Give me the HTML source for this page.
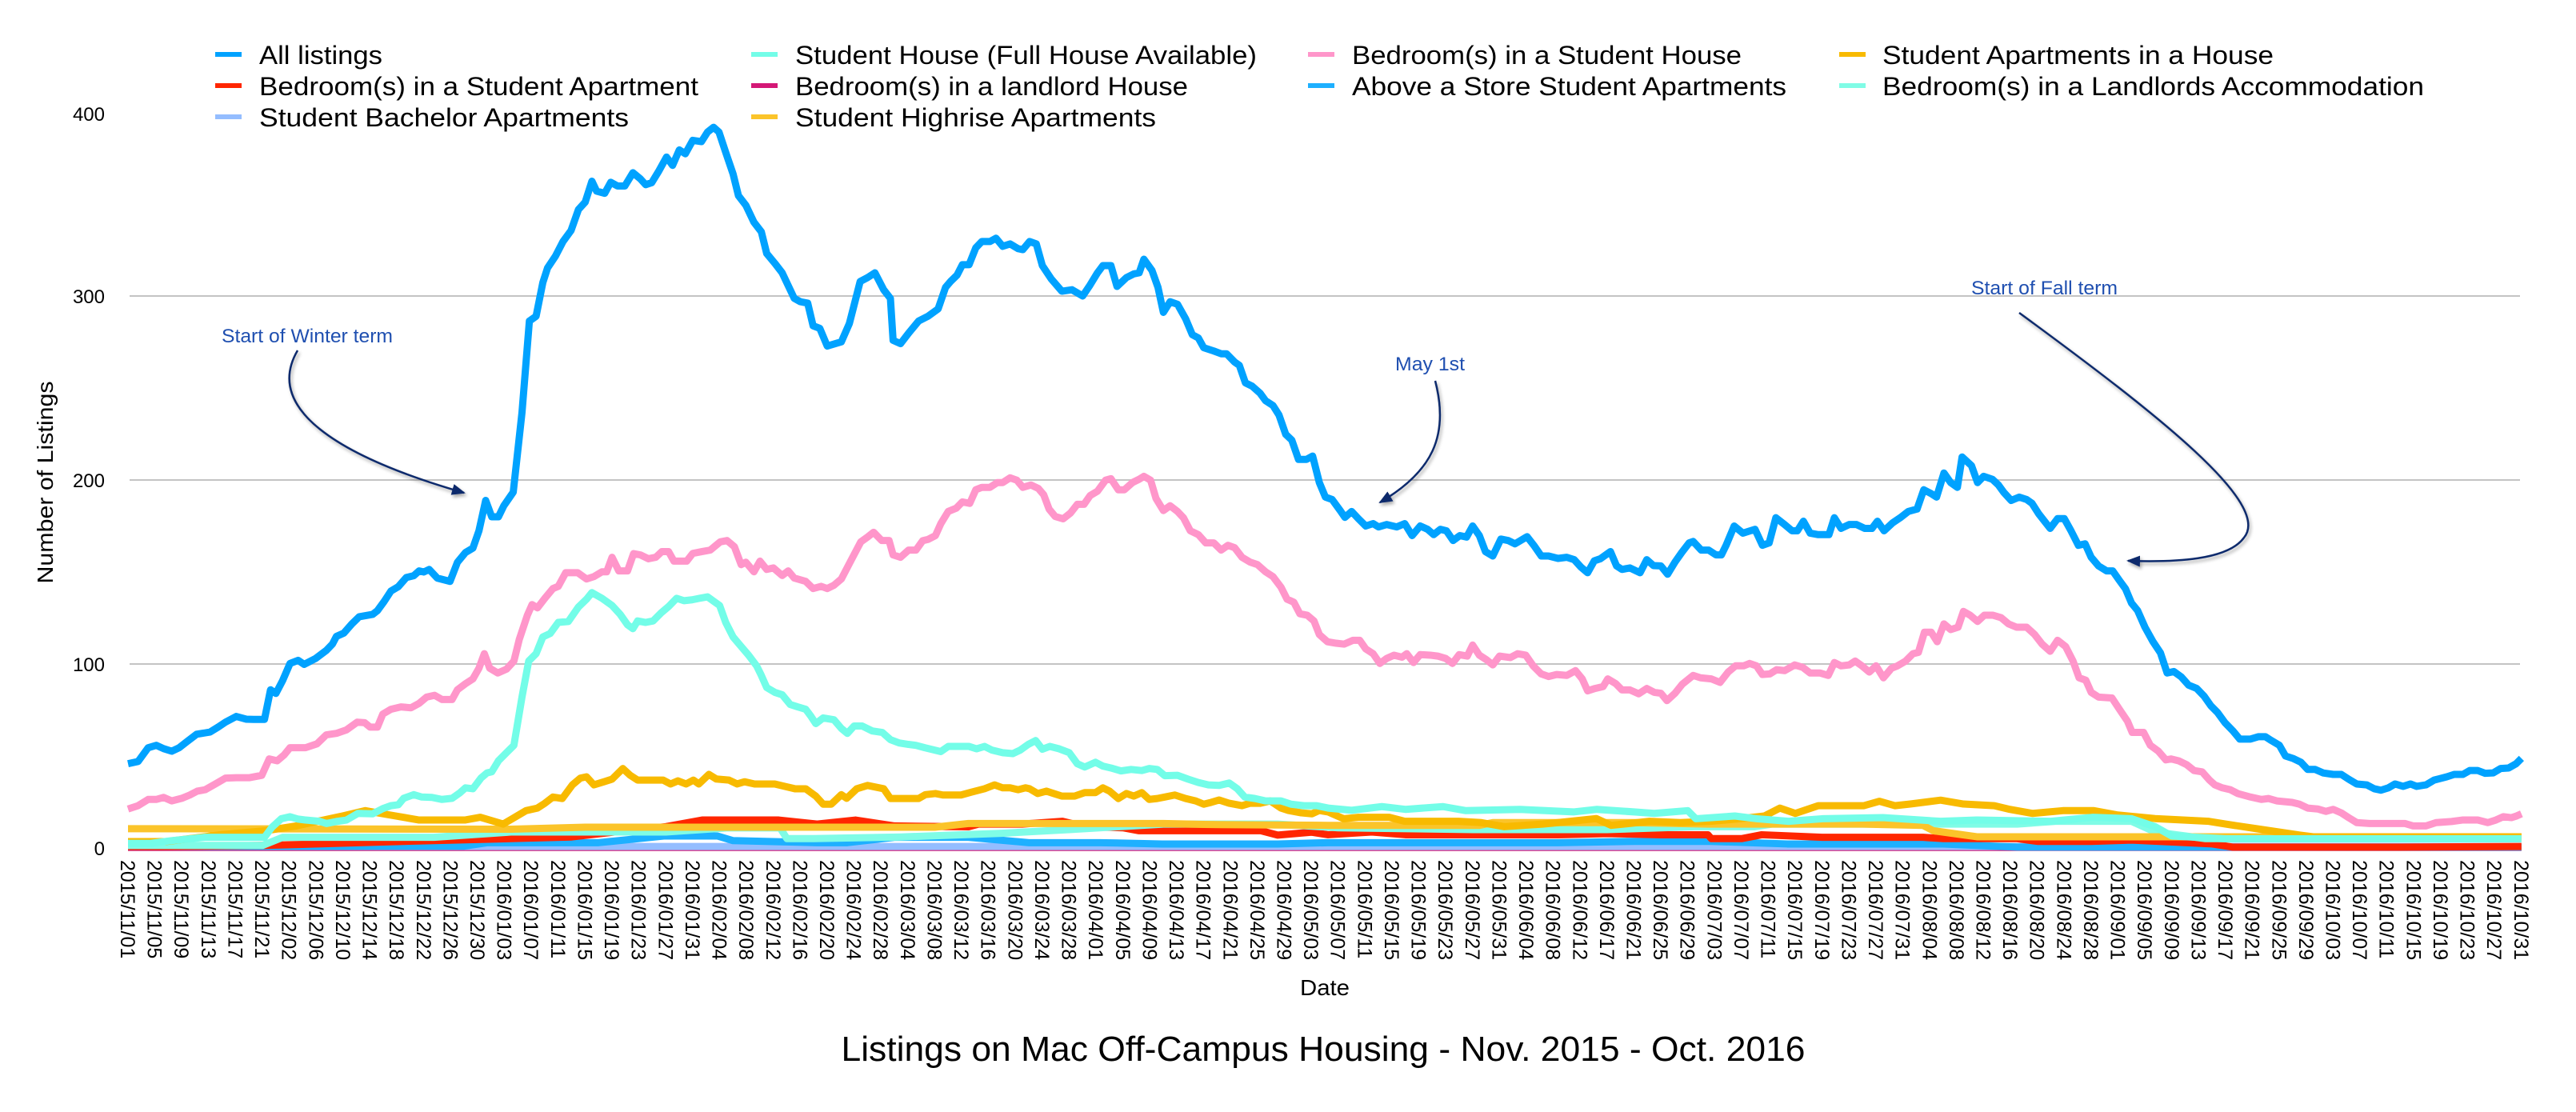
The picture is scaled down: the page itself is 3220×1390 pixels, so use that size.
<!DOCTYPE html>
<html>
<head>
<meta charset="utf-8">
<style>
  html, body { margin: 0; padding: 0; background: #ffffff; }
  svg { display: block; }
  text { font-family: "Liberation Sans", Arial, sans-serif; }
</style>
</head>
<body>
<svg width="3220" height="1390" viewBox="0 0 3220 1390" xmlns="http://www.w3.org/2000/svg">
  <defs>
    <marker id="ah" markerWidth="18" markerHeight="14" refX="15" refY="7" orient="auto" markerUnits="userSpaceOnUse">
      <path d="M0,0 L17,7 L0,14 z" fill="#0d2a6c"/>
    </marker>
    <filter id="sh" x="-10%" y="-10%" width="130%" height="130%">
      <feGaussianBlur in="SourceAlpha" stdDeviation="2"/>
      <feOffset dx="2" dy="3" result="b"/>
      <feComponentTransfer><feFuncA type="linear" slope="0.35"/></feComponentTransfer>
      <feMerge><feMergeNode/><feMergeNode in="SourceGraphic"/></feMerge>
    </filter>
  </defs>
  <rect width="3220" height="1390" fill="#ffffff"/>

  <!-- Legend -->
  <g font-size="32" fill="#000">
    <rect x="269" y="65" width="33" height="6" fill="#00a2ff"/>
    <text x="324" y="80" textLength="154" lengthAdjust="spacingAndGlyphs">All listings</text>
    <rect x="269" y="104" width="33" height="6" fill="#ff2600"/>
    <text x="324" y="119" textLength="549" lengthAdjust="spacingAndGlyphs">Bedroom(s) in a Student Apartment</text>
    <rect x="269" y="143" width="33" height="6" fill="#94bdff"/>
    <text x="324" y="158" textLength="462" lengthAdjust="spacingAndGlyphs">Student Bachelor Apartments</text>

    <rect x="939" y="65" width="33" height="6" fill="#73fde8"/>
    <text x="994" y="80" textLength="577" lengthAdjust="spacingAndGlyphs">Student House (Full House Available)</text>
    <rect x="939" y="104" width="33" height="6" fill="#d41876"/>
    <text x="994" y="119" textLength="491" lengthAdjust="spacingAndGlyphs">Bedroom(s) in a landlord House</text>
    <rect x="939" y="143" width="33" height="6" fill="#fbc42a"/>
    <text x="994" y="158" textLength="451" lengthAdjust="spacingAndGlyphs">Student Highrise Apartments</text>

    <rect x="1635" y="65" width="33" height="6" fill="#ff96ca"/>
    <text x="1690" y="80" textLength="487" lengthAdjust="spacingAndGlyphs">Bedroom(s) in a Student House</text>
    <rect x="1635" y="104" width="33" height="6" fill="#1eb0ff"/>
    <text x="1690" y="119" textLength="543" lengthAdjust="spacingAndGlyphs">Above a Store Student Apartments</text>

    <rect x="2299" y="65" width="33" height="6" fill="#f8ba00"/>
    <text x="2353" y="80" textLength="489" lengthAdjust="spacingAndGlyphs">Student Apartments in a House</text>
    <rect x="2299" y="104" width="33" height="6" fill="#80fce6"/>
    <text x="2353" y="119" textLength="677" lengthAdjust="spacingAndGlyphs">Bedroom(s) in a Landlords Accommodation</text>
  </g>

  <!-- Gridlines -->
  <g stroke="#c4c4c4" stroke-width="2">
    <line x1="162" y1="370" x2="3150" y2="370"/>
    <line x1="162" y1="600" x2="3150" y2="600"/>
    <line x1="162" y1="830" x2="3150" y2="830"/>
  </g>

  <!-- Y ticks -->
  <g font-size="24" fill="#000" text-anchor="end">
    <text x="131" y="151">400</text>
    <text x="131" y="379">300</text>
    <text x="131" y="609">200</text>
    <text x="131" y="839">100</text>
    <text x="131" y="1069">0</text>
  </g>

  <!-- Y axis title -->
  <text transform="translate(66,603) rotate(-90)" font-size="28" text-anchor="middle" textLength="253" lengthAdjust="spacingAndGlyphs">Number of Listings</text>

  <!-- Series -->
  <g transform="translate(160,1060) scale(8.404,-2.3)" fill="none" stroke-linejoin="round" stroke-linecap="butt">
    <!-- Bedroom(s) in a landlord House -->
    <polyline vector-effect="non-scaling-stroke" stroke="#d41876" stroke-width="9" points="0,0.3 356,0.3"/>
    <!-- Student Bachelor -->
    <polyline vector-effect="non-scaling-stroke" stroke="#94bdff" stroke-width="9" points="0,0.8 356,0.8"/>
    <!-- Above a Store -->
    <polyline vector-effect="non-scaling-stroke" stroke="#1eb0ff" stroke-width="9" points="0,0.8 50,1 53.5,2.9 70,2.9 79.7,6.5 87.7,6.5 90,4 102.5,2.9 107,2.9 114,5.8 125,5.8 134,2.9 144.6,2.9 153.8,2.2 171,2.2 178.5,2.9 212.7,2.9 224,3.6 235.4,3.6 246.8,2.2 269.6,2.2 281,0.5 356,0.5"/>
    <!-- Bedroom(s) in a Student Apartment -->
    <polyline vector-effect="non-scaling-stroke" stroke="#ff2600" stroke-width="9" points="0,0.8 4.6,0.8 20.5,1.4 41,3.6 57,5.1 66,6 74,9.4 80,11.6 85.4,15.2 96.8,15.2 102.5,13 108.2,15.2 114,12 125,11.5 126.5,13 133,13 139,14.5 142.4,11.6 148,11 150.3,9.4 168.5,9.4 171,7 176,8.6 178.5,7.2 185,8.7 190,7.2 212.7,7.2 220,7.8 228,7.2 235,7.2 235.5,5.1 240,5.1 243,7.2 252,5.8 267,5.8 270,5.1 281,5.1 284,3.6 292,3.6 298,4.3 310,2.2 313,0.5 338,0.5 356,0.8"/>
    <!-- Landlords Accommodation -->
    <polyline vector-effect="non-scaling-stroke" stroke="#80fce6" stroke-width="9" points="0,1.4 20,1.4 23,5.8 45.5,5.8 57,8.7 80,8.7 89,10.9 97,10.9 98,5.1 102,5.1 115,6 130,8 140,10 154,13 171,13 180,11 200,10 220,10 233,11.6 242,11.6 244.6,13 281,13 286.7,14.5 298,14.5 301.5,8.7 309,5.1 356,5.1"/>
    <!-- Student Highrise -->
    <polyline vector-effect="non-scaling-stroke" stroke="#fbc42a" stroke-width="9" points="0,10.5 57,10.2 68,11.3 120,11.3 125,13.3 154,13.3 160,12.8 178.5,12.3 201,12.3 203,13.8 224,13.8 235,13 258,13 267,12.3 268.5,9.4 275,6.1 356,6.1"/>
    <!-- Student Apartments in a House -->
    <polyline vector-effect="non-scaling-stroke" stroke="#f8ba00" stroke-width="9" points="0,3.5 5.7,3.5 13.7,7.2 20.5,9.4 25,12 31.9,17.4 35.3,20.3 38.7,18.1 43.3,15.2 50.1,15.2 52.4,16.7 55.8,13 59.2,20.3 60.9,21.7 62,24.3 63.2,27.7 64.6,26.9 66.1,34.3 67.3,38 68.2,38.7 69.3,34.3 70.9,36.1 72,37.4 73.6,43.2 74.7,39.5 75.8,36.9 79.6,36.9 80.7,34.8 81.8,36.5 83,34.8 84.1,36.9 84.9,34.8 86.4,40 87.5,37.5 89.4,36.9 90.6,34.8 91.7,36 93.2,34.8 96.2,34.8 97.7,33.5 99.2,32.2 100.8,32.2 102.3,28.2 103.4,23.8 104.6,23.8 106.1,29 106.9,27 108.4,32.2 110,34 112.4,32.2 113.4,26.9 117.6,26.9 118.6,29 120.1,29.6 121.2,28.8 123.9,28.8 125.5,30.4 127.4,32.2 128.9,34.3 130.1,32.7 131.2,32.7 132.4,31.7 133.5,32.7 134.1,32.2 135.3,29.6 136.6,30.9 137.7,29.6 138.9,28.2 140.8,28.2 142.3,30.1 143.9,30.1 145,32.7 146,30.9 147.3,26.9 148.5,29.6 149.6,28.2 150.8,30.1 151.9,26.4 153.1,26.9 154.2,27.7 155.7,28.8 157.3,26.9 158.8,25.6 160,23.8 161.1,24.8 162.3,26.1 163.8,24.3 165.7,23 166.9,24.3 168.4,24.3 169.9,25.6 171.5,21.7 172.6,20.4 174.5,19.1 176.1,18.6 177.2,20.4 178.5,19.6 180.8,15.9 183,16.7 187.6,16.7 189.9,14.5 197.9,14.5 201.3,13.8 204.7,11.6 210.4,13 212.7,13.8 218.4,16 220.6,12.3 226.3,14.5 230.9,13.8 235.4,14.5 240,16 243.4,17.4 245.7,21.7 248,18.8 251.4,23 258.2,23 260.5,25.4 262.8,23 265.1,23.9 269.6,26 273,23.9 277.6,23 279.9,21 283.3,18.8 287.8,20.3 292.4,20.3 295.8,18 301.5,16 309.5,14.5 312,13 317.5,10 323.1,7 325,6.1 356,6.1"/>
    <!-- Student House (Full House Available) -->
    <polyline vector-effect="non-scaling-stroke" stroke="#73fde8" stroke-width="9" points="0,2.5 3.4,2.5 6.5,4 11.4,5.8 20.3,5.8 21.4,11.2 22.8,15.9 24.1,17 25.3,15.7 26.4,15.2 28.5,14.5 29.5,13.3 31,14.4 32.5,15.2 34.2,18.8 36.4,18.6 37.9,21.4 39.1,23 40.2,23.5 41,27 42.5,29 43.7,27.7 45.2,27.5 46.7,26.4 48.2,27 49.4,30.1 50.2,32.7 51.3,32.2 52.5,38 53.4,40.8 54.1,41.4 55.1,47.4 56.3,51.8 57.4,55.8 58.6,82 59.6,101.6 60.7,105.6 61.7,114.7 62.8,116.6 64,122.6 65.5,123.1 67,131 68.2,135.2 69,138.8 70.5,135.7 72,131.8 73.2,127 74.3,121.3 75.1,119.2 75.8,123.4 77,122.6 78.1,123.4 79.3,127.8 80.4,131.2 81.6,135.7 82.7,134.4 83.9,134.9 85,135.7 86.2,136.5 87,134.4 88,131.8 88.9,122.6 90,114.7 91.2,109.5 92.3,104.8 93.5,99 94.2,93.8 95,87.2 96.2,84.6 97.3,83.3 98.5,78 99.6,76.7 100.8,75.4 101.5,72 102.3,67.6 103.4,70.7 105,69.7 106.1,65 107,62.3 108,66.3 109.2,66.3 110.7,63.6 112.2,62.8 113.4,58.9 114.7,57.1 116.1,56.3 117.2,55.8 118.5,54.5 120.9,52.4 122,55.2 125.1,55.2 126.2,53.9 127.4,55.2 128.5,53.2 130.1,51.8 131.6,51.3 132.7,53.2 133.9,56.3 135,58.4 136,53.7 137.1,55.2 138.5,53.9 140,51.8 141.2,45.8 142.3,44 143.9,46.6 145,44.5 146.2,43.5 147.7,41.9 149.2,42.7 150.8,42.1 151.9,43.2 153.1,42.7 154.2,39.3 156.1,39.5 157.7,37.4 159.2,35.6 160.7,34.3 162.3,34 163.8,35.3 165,32.2 166.1,27.7 167.6,26.9 169.2,25.6 171.5,25.6 173,23.8 174.9,23 176.8,23 178.5,21.7 182,20.5 186.5,22.5 190,21 195.6,22.5 199,20.3 207,21 215,19.6 218.5,21 224,19.6 227,18.8 232,20.3 233.2,15.9 239,17.4 242.3,15.9 247,14.5 252,15.9 261,16.5 269.6,14.5 275,15.2 286,14.5 292.3,16.7 298,15.9 301.5,11.6 304,6.5 312,5 356,5"/>
    <!-- Bedroom(s) in a Student House -->
    <polyline vector-effect="non-scaling-stroke" stroke="#ff96ca" stroke-width="9" points="0,21.2 1.5,23 3,26.4 4.2,26.4 5.3,27.5 6.5,25.6 8,27 9.2,28.8 10.3,30.9 11.5,31.7 13,34.8 14.5,38 16.1,38.2 18,38.2 19.9,39.5 21,48.4 22.2,47.4 23.2,50.5 24.1,54.5 26.4,54.5 28.1,56.6 29.5,61.5 31,62.3 32.5,64.2 34.1,68.4 35.2,68.1 36,65.7 37.1,65.7 37.9,72.8 39.1,75.4 40.6,76.7 42.1,76.2 43.3,78.6 44.4,82 45.6,83 46.7,80.7 48.2,80.7 49,86 50.2,89.3 51.3,91.9 52.2,97.7 53,105.6 53.8,97.7 55,95.1 56.3,97.2 57.4,101.6 58.2,113.4 59.4,126.5 60.1,132.3 60.9,130.5 62,135.7 63.2,141 64,142.2 65.1,149.6 66.9,149.6 68.2,146.2 69.3,147.5 70.5,150.1 71.2,150.1 72,158 73,150.6 74.3,150.6 75.2,160 76.2,159.3 77.4,157.2 78.5,158 79.4,161.1 80.4,161.1 81.2,155.9 83.1,155.9 84,160.1 85.4,161.1 86.6,161.9 88.1,166.4 89.1,167.1 90.2,163.7 91.2,154 91.9,155.3 93.1,150.1 94,155.9 95,151.4 96,152.2 97.3,148.1 98.2,150.6 99.1,146.7 100.8,144.9 101.9,141 103.1,142.2 104,141 105,142.8 106.1,146.2 107.6,156.7 109,166.4 110,169 110.9,171.6 112.1,167.1 113.2,167.1 113.8,159.3 114.9,158 116.1,161.9 117.2,161.9 118.2,167 119,167.7 120.1,169.8 120.9,176.3 122,182.9 123.2,184.7 124.1,188.1 125.2,187.3 126.1,194.7 127,196 128.2,196 129.3,198.6 130.1,198.6 131.2,201.2 132.2,199.9 133.1,196 134.3,197.3 135.4,195.4 136.2,192 137,184.2 137.9,180.2 139.1,178.9 140.2,182.1 141.2,186.8 142.2,186.8 143.1,191.5 144.2,193.9 145.4,199.9 146.2,200.7 147.3,194.7 148.2,194.7 149.4,198.6 150.4,200.4 151.1,202 152.1,199.9 152.9,190 154,183.4 155,186 156.1,182.9 157,179.4 158,172.4 159.2,170.3 160.3,165.8 161.5,165.8 162.6,161.9 163.6,164.5 164.6,163.2 165.7,158 166.9,155.4 168,154 169.2,150.1 170.3,147.5 171.5,141.7 172.4,135.2 173.4,133.6 174.3,127.3 175.4,126.5 176.4,123.4 177.2,116 178.4,112.1 179.7,111.3 180.9,110.8 182.2,112.9 183.2,112.9 184.1,108.2 185.2,105.6 186.2,100.3 187.2,103 188.3,104.8 189.5,103.7 190.2,105.6 191.2,100.8 192.2,105.1 193.7,104.8 194.8,104.3 196,103 197,100.3 198,105.1 199.2,104.3 200,110.3 201,104.8 202.1,102.2 203,99.5 204,104.3 205.6,103.5 206.7,105.6 207.9,104.8 209,99 210.2,94.6 211.3,93.2 212.5,94.3 214,93.8 215.3,96.4 216.3,91.9 217.1,85.4 218.2,86.7 219.4,87.7 220.1,91.9 221.3,89.3 222.2,85.9 223.4,85.9 224.7,83.8 225.9,86.7 227,84.6 228,84.1 228.9,80.1 230.1,84.1 231.2,89.1 232.8,93.8 233.9,92.5 235.5,91.9 236.8,90 238,95.6 239.1,99 240.3,99 241.2,100.3 242.2,99 243.1,94.3 244.2,94.6 245.2,96.9 246.4,96.4 247.9,99.5 249.1,98.2 250.2,95.1 251.7,95.1 252.9,93.8 253.8,100.8 254.8,99 256,99.5 256.9,101.6 257.9,99 259,95.6 260,99 261.1,92.5 262.3,97.7 263.2,99 264.4,101.6 265.5,105.6 266.3,106.3 267.2,117.3 268.2,117.3 269.1,112.1 270.1,121.8 271.1,118.7 272.2,120 273,128.6 274,126.5 275.1,123.1 276.1,126.5 277.4,126.5 278.6,125.2 279.7,121.8 280.9,120 282.4,120 283.6,116 284.7,110.8 285.9,106.9 287,112.9 288.2,109.5 289.3,101.6 290.2,92.5 291.2,91.2 292,84.6 293.1,82 295.1,81.5 296.2,75.4 297.4,68.9 298.1,62.8 299.8,62.8 300.8,55.8 302,52.6 303.1,47.9 303.9,48.4 305,47.4 306.2,45.3 307.3,42.1 308.5,41.4 309.6,36.9 310.4,34.3 311.5,32.7 312.7,31.7 313.8,29.6 315.7,27.7 317.3,26.4 318.4,26.9 319.6,25.6 321.9,24.8 323,23.8 324.2,21.7 325.7,21.2 326.9,19.9 328,21 329.2,19.1 330.3,16.5 331.5,13.8 333.4,13.3 335.7,13.3 338.7,13.3 339.9,12 341.8,12 343.3,13.8 345.6,14.4 347.2,15.2 349.5,15.2 351,13.8 352.2,15.2 353.3,17 354.5,16.5 355.2,17.3 356,18.6"/>
    <!-- All listings -->
    <polyline vector-effect="non-scaling-stroke" stroke="#00a2ff" stroke-width="9" points="0,45.8 1.5,47 3,54.5 4.2,55.8 5.3,54 6.5,52.6 7.6,54.5 8.8,57.9 10.2,61.8 12.2,63 13.4,65.7 14.5,68.4 16.1,71.5 17.6,70 18.7,69.9 20.3,69.9 21.2,86 22,84 23,91 24.1,100.3 25.3,102 26.2,99.8 27.9,103 29.5,107.4 30.4,110.8 31,115 32.1,116.8 33.3,121.8 34.4,125.7 36.4,127 37.1,129 38.1,134 39.1,139.6 40.2,142 41.4,147 42.5,148 43.3,150.6 44,150 44.8,151.4 46,146.7 47.9,144.9 49,155.3 50.2,160.6 51.3,163 52.2,172.4 53.2,188.9 54.1,180 55.1,180 55.9,186 57.3,193.4 58.6,236.6 59.7,286.4 60.7,289 61.7,307.3 62.4,315.2 63.6,321.8 64.7,329.6 65.9,335.6 67,347 68,351 69,362.4 69.7,357 70.9,355.8 71.8,361.8 72.8,359.8 73.9,359.8 75.1,367 76.2,363.7 77,360.5 77.9,361.6 78.9,367.6 80.1,375.5 81,371 82,379.4 82.9,377.3 84,384.6 85.3,383.9 86.2,389.1 87.1,391.7 87.9,389.1 88.9,378.1 90,366.3 90.8,354.5 91.9,349.3 93.1,340.1 94.2,334.9 95,323.1 96.2,317.8 97.3,312.6 99.1,298.7 100,296.9 101.1,296.1 101.9,283.8 102.9,282.4 104,272.8 106.1,275.1 107.3,285.1 108.9,307.9 110,310 111.1,312.6 112.4,303.4 113.4,298.7 113.8,275.9 114.9,274.1 116.1,279.8 117.6,286.4 119,289 120.5,293 121.6,304.7 122.4,308.1 123.3,311.3 124.1,317 125.1,317 126.1,326.2 127,329.6 128.2,329.6 129.1,331.4 130.1,327 131.2,328.3 132.4,325.7 133.1,325.2 134.1,329.6 135.1,328.3 136,316.5 137.3,309.4 138.9,302.6 140.4,303.4 142,300 143.1,306 144.2,312.6 145,316.5 146.2,316.5 147.1,305.2 148.5,310 149.6,312 150.4,312.6 151.1,320 152.3,313.9 153.2,304.7 154,291.1 155,296.9 156.1,295.5 157.3,287.7 158.3,279 159.2,277.2 160,271.9 161.5,270.1 162.6,268.6 163.4,268.6 164.6,264.1 165.3,262.3 166.2,252.8 167.2,251 168.4,247.1 169.2,243.1 170.3,240.5 171.2,235.3 172.2,224.8 173.1,221.7 174.1,211.2 175.3,211.2 176.2,213 177.2,198.6 178.1,190.7 179.1,189.4 180.3,183.4 181,179.7 182,182.9 183,179 184.1,175 185.2,176.3 186,174.5 187.2,175.8 188.7,174.5 189.9,176.3 191,169.8 192.2,175 193.3,173.2 194.2,170.3 195.2,173.2 196.1,172.4 197.1,167.1 198.1,169.8 199.1,169 200,175 201,169.8 201.9,161.1 203,158.7 204.2,167.9 205.3,167.1 206.3,165.3 208.1,169.2 209.2,164 210.2,158.7 211.3,158.7 212.7,157.4 214,158 215.1,156.7 216.1,152.7 217.1,149.6 218.1,156.1 219,157.2 220.5,161.1 221.4,153.3 222.2,151.4 223.4,152.2 224.9,149.6 225.9,156.7 226.9,153.5 228,153.3 229,148.8 230.1,155.4 231.1,160.6 232.2,165.8 232.8,166.6 234,161.9 235.1,161.9 236.2,159.3 237,159.3 237.7,164.5 238.9,175 240.2,171.1 242,173.2 243.1,164.5 244.1,165.8 245.1,179.5 246.4,175.8 247.5,172.4 248.3,172.4 249.2,177.6 250.2,171.1 251.4,170.3 253,170.3 253.8,179.5 254.8,173.7 256,175.8 257.1,175.8 258.3,173.7 259.4,173.7 260.2,177.6 261.2,172.4 262.5,176.8 263.6,179.5 264.8,182.9 266.1,184.2 267.1,194.7 268.2,192.6 269,190.7 270.1,203.8 271.1,198.6 272.1,196 272.8,212.5 274.2,207.8 275.1,198.6 276,202 277.3,200.4 278.2,197.3 279,193.3 280.1,188.9 281.3,190.7 282.4,189.4 283.2,187.3 284.2,181.6 285.9,173.7 287,179 288,179 289,172.4 290.1,164.5 291.1,165.3 292,158 293.1,153.3 294.3,150.6 295.2,150.6 296.2,145.4 297.1,140.9 298,133.1 298.9,129.1 300,120 301.2,112.1 302.3,106.1 303.3,95.1 304.3,95.9 305.4,93 306.5,88.5 307.7,86.7 308.8,82.5 309.8,77.3 310.8,73.6 311.9,68.1 313.1,63.6 314.1,59.2 315.7,59.2 316.9,60.5 317.9,60.5 318.8,58.4 320,55.8 320.9,50 322,48.7 323.2,46.6 324.2,42.7 325.3,42.7 326.5,40.8 328,40 329.2,40 330.3,37.4 331.5,34.8 333,34.3 334.1,32.2 335.1,31.4 336.2,32.7 337.2,34.8 338.4,33.5 339.5,34.8 340.4,33.5 341.8,34.3 343,36.9 344.9,38.7 346,40 347.3,40 348.3,42.1 349.5,42.1 350.6,40.6 351.8,40.8 352.9,43.2 354.1,43.5 355.2,45.8 356,48.7"/>
  </g>

  <!-- Annotations -->
  <g fill="#1f4fb0" font-size="24">
    <text x="277" y="428" textLength="214" lengthAdjust="spacingAndGlyphs">Start of Winter term</text>
    <text x="1744" y="463" textLength="87" lengthAdjust="spacingAndGlyphs">May 1st</text>
    <text x="2464" y="368" textLength="183" lengthAdjust="spacingAndGlyphs">Start of Fall term</text>
  </g>
  <g fill="none" stroke="#0d2a6c" stroke-width="2.5" filter="url(#sh)">
    <path d="M372,438 C330,510 420,570 580,616" marker-end="url(#ah)"/>
    <path d="M1794,476 C1812,545 1790,590 1725,628" marker-end="url(#ah)"/>
    <path d="M2524,391 C2700,520 2840,630 2805,672 C2785,700 2720,703 2660,701" marker-end="url(#ah)"/>
  </g>

  <!-- X tick labels -->
  <g font-size="25" fill="#000">
    <text transform="translate(160.0,1075) rotate(90)" y="9">2015/11/01</text>
    <text transform="translate(193.6,1075) rotate(90)" y="9">2015/11/05</text>
    <text transform="translate(227.2,1075) rotate(90)" y="9">2015/11/09</text>
    <text transform="translate(260.8,1075) rotate(90)" y="9">2015/11/13</text>
    <text transform="translate(294.5,1075) rotate(90)" y="9">2015/11/17</text>
    <text transform="translate(328.1,1075) rotate(90)" y="9">2015/11/21</text>
    <text transform="translate(361.7,1075) rotate(90)" y="9">2015/12/02</text>
    <text transform="translate(395.3,1075) rotate(90)" y="9">2015/12/06</text>
    <text transform="translate(428.9,1075) rotate(90)" y="9">2015/12/10</text>
    <text transform="translate(462.5,1075) rotate(90)" y="9">2015/12/14</text>
    <text transform="translate(496.2,1075) rotate(90)" y="9">2015/12/18</text>
    <text transform="translate(529.8,1075) rotate(90)" y="9">2015/12/22</text>
    <text transform="translate(563.4,1075) rotate(90)" y="9">2015/12/26</text>
    <text transform="translate(597.0,1075) rotate(90)" y="9">2015/12/30</text>
    <text transform="translate(630.6,1075) rotate(90)" y="9">2016/01/03</text>
    <text transform="translate(664.2,1075) rotate(90)" y="9">2016/01/07</text>
    <text transform="translate(697.9,1075) rotate(90)" y="9">2016/01/11</text>
    <text transform="translate(731.5,1075) rotate(90)" y="9">2016/01/15</text>
    <text transform="translate(765.1,1075) rotate(90)" y="9">2016/01/19</text>
    <text transform="translate(798.7,1075) rotate(90)" y="9">2016/01/23</text>
    <text transform="translate(832.3,1075) rotate(90)" y="9">2016/01/27</text>
    <text transform="translate(865.9,1075) rotate(90)" y="9">2016/01/31</text>
    <text transform="translate(899.6,1075) rotate(90)" y="9">2016/02/04</text>
    <text transform="translate(933.2,1075) rotate(90)" y="9">2016/02/08</text>
    <text transform="translate(966.8,1075) rotate(90)" y="9">2016/02/12</text>
    <text transform="translate(1000.4,1075) rotate(90)" y="9">2016/02/16</text>
    <text transform="translate(1034.0,1075) rotate(90)" y="9">2016/02/20</text>
    <text transform="translate(1067.6,1075) rotate(90)" y="9">2016/02/24</text>
    <text transform="translate(1101.2,1075) rotate(90)" y="9">2016/02/28</text>
    <text transform="translate(1134.9,1075) rotate(90)" y="9">2016/03/04</text>
    <text transform="translate(1168.5,1075) rotate(90)" y="9">2016/03/08</text>
    <text transform="translate(1202.1,1075) rotate(90)" y="9">2016/03/12</text>
    <text transform="translate(1235.7,1075) rotate(90)" y="9">2016/03/16</text>
    <text transform="translate(1269.3,1075) rotate(90)" y="9">2016/03/20</text>
    <text transform="translate(1302.9,1075) rotate(90)" y="9">2016/03/24</text>
    <text transform="translate(1336.6,1075) rotate(90)" y="9">2016/03/28</text>
    <text transform="translate(1370.2,1075) rotate(90)" y="9">2016/04/01</text>
    <text transform="translate(1403.8,1075) rotate(90)" y="9">2016/04/05</text>
    <text transform="translate(1437.4,1075) rotate(90)" y="9">2016/04/09</text>
    <text transform="translate(1471.0,1075) rotate(90)" y="9">2016/04/13</text>
    <text transform="translate(1504.6,1075) rotate(90)" y="9">2016/04/17</text>
    <text transform="translate(1538.3,1075) rotate(90)" y="9">2016/04/21</text>
    <text transform="translate(1571.9,1075) rotate(90)" y="9">2016/04/25</text>
    <text transform="translate(1605.5,1075) rotate(90)" y="9">2016/04/29</text>
    <text transform="translate(1639.1,1075) rotate(90)" y="9">2016/05/03</text>
    <text transform="translate(1672.7,1075) rotate(90)" y="9">2016/05/07</text>
    <text transform="translate(1706.3,1075) rotate(90)" y="9">2016/05/11</text>
    <text transform="translate(1740.0,1075) rotate(90)" y="9">2016/05/15</text>
    <text transform="translate(1773.6,1075) rotate(90)" y="9">2016/05/19</text>
    <text transform="translate(1807.2,1075) rotate(90)" y="9">2016/05/23</text>
    <text transform="translate(1840.8,1075) rotate(90)" y="9">2016/05/27</text>
    <text transform="translate(1874.4,1075) rotate(90)" y="9">2016/05/31</text>
    <text transform="translate(1908.0,1075) rotate(90)" y="9">2016/06/04</text>
    <text transform="translate(1941.6,1075) rotate(90)" y="9">2016/06/08</text>
    <text transform="translate(1975.3,1075) rotate(90)" y="9">2016/06/12</text>
    <text transform="translate(2008.9,1075) rotate(90)" y="9">2016/06/17</text>
    <text transform="translate(2042.5,1075) rotate(90)" y="9">2016/06/21</text>
    <text transform="translate(2076.1,1075) rotate(90)" y="9">2016/06/25</text>
    <text transform="translate(2109.7,1075) rotate(90)" y="9">2016/06/29</text>
    <text transform="translate(2143.3,1075) rotate(90)" y="9">2016/07/03</text>
    <text transform="translate(2177.0,1075) rotate(90)" y="9">2016/07/07</text>
    <text transform="translate(2210.6,1075) rotate(90)" y="9">2016/07/11</text>
    <text transform="translate(2244.2,1075) rotate(90)" y="9">2016/07/15</text>
    <text transform="translate(2277.8,1075) rotate(90)" y="9">2016/07/19</text>
    <text transform="translate(2311.4,1075) rotate(90)" y="9">2016/07/23</text>
    <text transform="translate(2345.0,1075) rotate(90)" y="9">2016/07/27</text>
    <text transform="translate(2378.7,1075) rotate(90)" y="9">2016/07/31</text>
    <text transform="translate(2412.3,1075) rotate(90)" y="9">2016/08/04</text>
    <text transform="translate(2445.9,1075) rotate(90)" y="9">2016/08/08</text>
    <text transform="translate(2479.5,1075) rotate(90)" y="9">2016/08/12</text>
    <text transform="translate(2513.1,1075) rotate(90)" y="9">2016/08/16</text>
    <text transform="translate(2546.7,1075) rotate(90)" y="9">2016/08/20</text>
    <text transform="translate(2580.4,1075) rotate(90)" y="9">2016/08/24</text>
    <text transform="translate(2614.0,1075) rotate(90)" y="9">2016/08/28</text>
    <text transform="translate(2647.6,1075) rotate(90)" y="9">2016/09/01</text>
    <text transform="translate(2681.2,1075) rotate(90)" y="9">2016/09/05</text>
    <text transform="translate(2714.8,1075) rotate(90)" y="9">2016/09/09</text>
    <text transform="translate(2748.4,1075) rotate(90)" y="9">2016/09/13</text>
    <text transform="translate(2782.0,1075) rotate(90)" y="9">2016/09/17</text>
    <text transform="translate(2815.7,1075) rotate(90)" y="9">2016/09/21</text>
    <text transform="translate(2849.3,1075) rotate(90)" y="9">2016/09/25</text>
    <text transform="translate(2882.9,1075) rotate(90)" y="9">2016/09/29</text>
    <text transform="translate(2916.5,1075) rotate(90)" y="9">2016/10/03</text>
    <text transform="translate(2950.1,1075) rotate(90)" y="9">2016/10/07</text>
    <text transform="translate(2983.7,1075) rotate(90)" y="9">2016/10/11</text>
    <text transform="translate(3017.4,1075) rotate(90)" y="9">2016/10/15</text>
    <text transform="translate(3051.0,1075) rotate(90)" y="9">2016/10/19</text>
    <text transform="translate(3084.6,1075) rotate(90)" y="9">2016/10/23</text>
    <text transform="translate(3118.2,1075) rotate(90)" y="9">2016/10/27</text>
    <text transform="translate(3151.8,1075) rotate(90)" y="9">2016/10/31</text>
  </g>

  <!-- X axis title -->
  <text x="1656" y="1244" font-size="28" text-anchor="middle" textLength="62" lengthAdjust="spacingAndGlyphs">Date</text>

  <!-- Chart title -->
  <text x="1654" y="1326" font-size="44" text-anchor="middle" textLength="1205" lengthAdjust="spacingAndGlyphs">Listings on Mac Off-Campus Housing - Nov. 2015 - Oct. 2016</text>
</svg>
</body>
</html>
